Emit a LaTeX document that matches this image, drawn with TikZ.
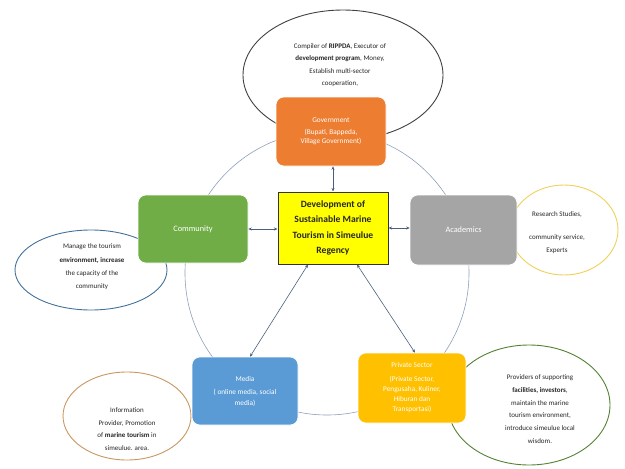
\documentclass[tikz,border=0pt]{standalone}
\usepackage{fontspec}
\setmainfont{Carlito}
\usetikzlibrary{shapes.geometric,arrows.meta,calc}
\definecolor{govc}{HTML}{ED7D31}
\definecolor{comc}{HTML}{70AD47}
\definecolor{acac}{HTML}{A5A5A5}
\definecolor{medc}{HTML}{5B9BD5}
\definecolor{pric}{HTML}{FFC000}
\definecolor{yelc}{HTML}{FFFF00}
\definecolor{ringc}{RGB}{140,160,185}
\definecolor{linkc}{RGB}{75,95,125}
\definecolor{ebl}{HTML}{41719C}
\definecolor{eyl}{RGB}{238,208,90}
\definecolor{eor}{RGB}{200,150,95}
\definecolor{egr}{HTML}{548235}
\begin{document}
\begin{tikzpicture}[x=1pt,y=-1pt,
  boxstyle/.style={rounded corners=8pt, draw=white, line width=0.6pt, text=white,
    align=center, inner sep=0pt, font=\fontsize{7.3}{9.5}\selectfont},
  oval/.style={ellipse, draw, line width=0.9pt, inner sep=0pt},
  etext/.style={align=center, inner sep=0pt, font=\fontsize{7}{12.5}\selectfont, text=black!85},
  link/.style={draw=linkc, line width=0.6pt, {Stealth[length=3.5pt,width=3pt]}-{Stealth[length=3.5pt,width=3pt]}},
  ring/.style={draw=ringc, line width=0.6pt}]
\useasboundingbox (0,0) rectangle (625,469);
% ring
\coordinate (rc) at (327,273);
\draw[ring] (rc) circle[radius=142];
% ellipses
\node[oval, draw=black!75, minimum width=200, minimum height=130] (topE) at (343,75) {};
\node[oval, draw=ebl, minimum width=152, minimum height=80] (leftE) at (91,270) {};
\node[oval, draw=eyl, minimum width=108, minimum height=90] (rightE) at (564,230) {};
\node[oval, draw=eor, minimum width=128, minimum height=88] (llE) at (127,416) {};
\node[oval, draw=egr, minimum width=162, minimum height=120] (lrE) at (529,405) {};
% boxes
\node[boxstyle, fill=yelc, draw=black!80, line width=1pt, rounded corners=0pt, text=black!85,
  minimum width=110, minimum height=72, font=\bfseries\fontsize{9.6}{15.5}\selectfont] (cen) at (333,228)
  {Development of\\Sustainable Marine\\Tourism in Simeulue\\Regency};
\node[boxstyle, fill=govc, minimum width=110, minimum height=69] (gov) at (331,131.5)
  {Government\\[2pt](Bupati, Bappeda,\\Village Government)};
\node[boxstyle, fill=comc, minimum width=110, minimum height=68, font=\fontsize{8.3}{10}\selectfont] (com) at (193,229) {Community};
\node[boxstyle, fill=acac, minimum width=107, minimum height=70, font=\fontsize{8.3}{10}\selectfont] (aca) at (463.5,230) {Academics};
\node[boxstyle, fill=medc, minimum width=106, minimum height=68, font=\fontsize{7.3}{11}\selectfont] (med) at (245,391)
  {Media\\[2pt]( online media, social\\media)};
\node[boxstyle, fill=pric, minimum width=108, minimum height=70, font=\fontsize{7.3}{10}\selectfont] (pri) at (412,388)
  {Private Sector\\[4pt](Private Sector,\\Pengusaha, Kuliner,\\Hiburan dan\\Transportasi)};
% connectors
\draw[link] (cen.north) -- (cen.north |- gov.south);
\draw[link] (cen.west |- com.east) -- (com.east);
\draw[link] (cen.east) -- (cen.east -| aca.west);
\draw[link] ($(cen.south)+(-25,0)$) -- ($(med.north)+(5,0)$);
\draw[link] ($(cen.south)+(24,0)$) -- ($(pri.north)+(3,0)$);
% ellipse texts
\node[etext] (topT) at (340,65) {Compiler of \textbf{RIPPDA}, Executor of\\\textbf{development program}, Money,\\Establish multi-sector\\cooperation,};
\node[etext, font=\fontsize{7}{13.3}\selectfont] (leftT) at (92,267) {Manage the tourism\\\textbf{environment, increase}\\the capacity of the\\community};
\node[etext] (rightT) at (557,232.5) {Research Studies,\\[11pt]community service,\\Experts};
\node[etext] (llT) at (127,429) {Information\\Provider, Promotion\\of \textbf{marine tourism} in\\simeulue. area.};
\node[etext, font=\fontsize{7}{12.8}\selectfont] (lrT) at (540,409) {Providers of supporting\\\textbf{facilities, investors},\\maintain the marine\\tourism environment,\\introduce simeulue local\\wisdom.};
\end{tikzpicture}
\end{document}
